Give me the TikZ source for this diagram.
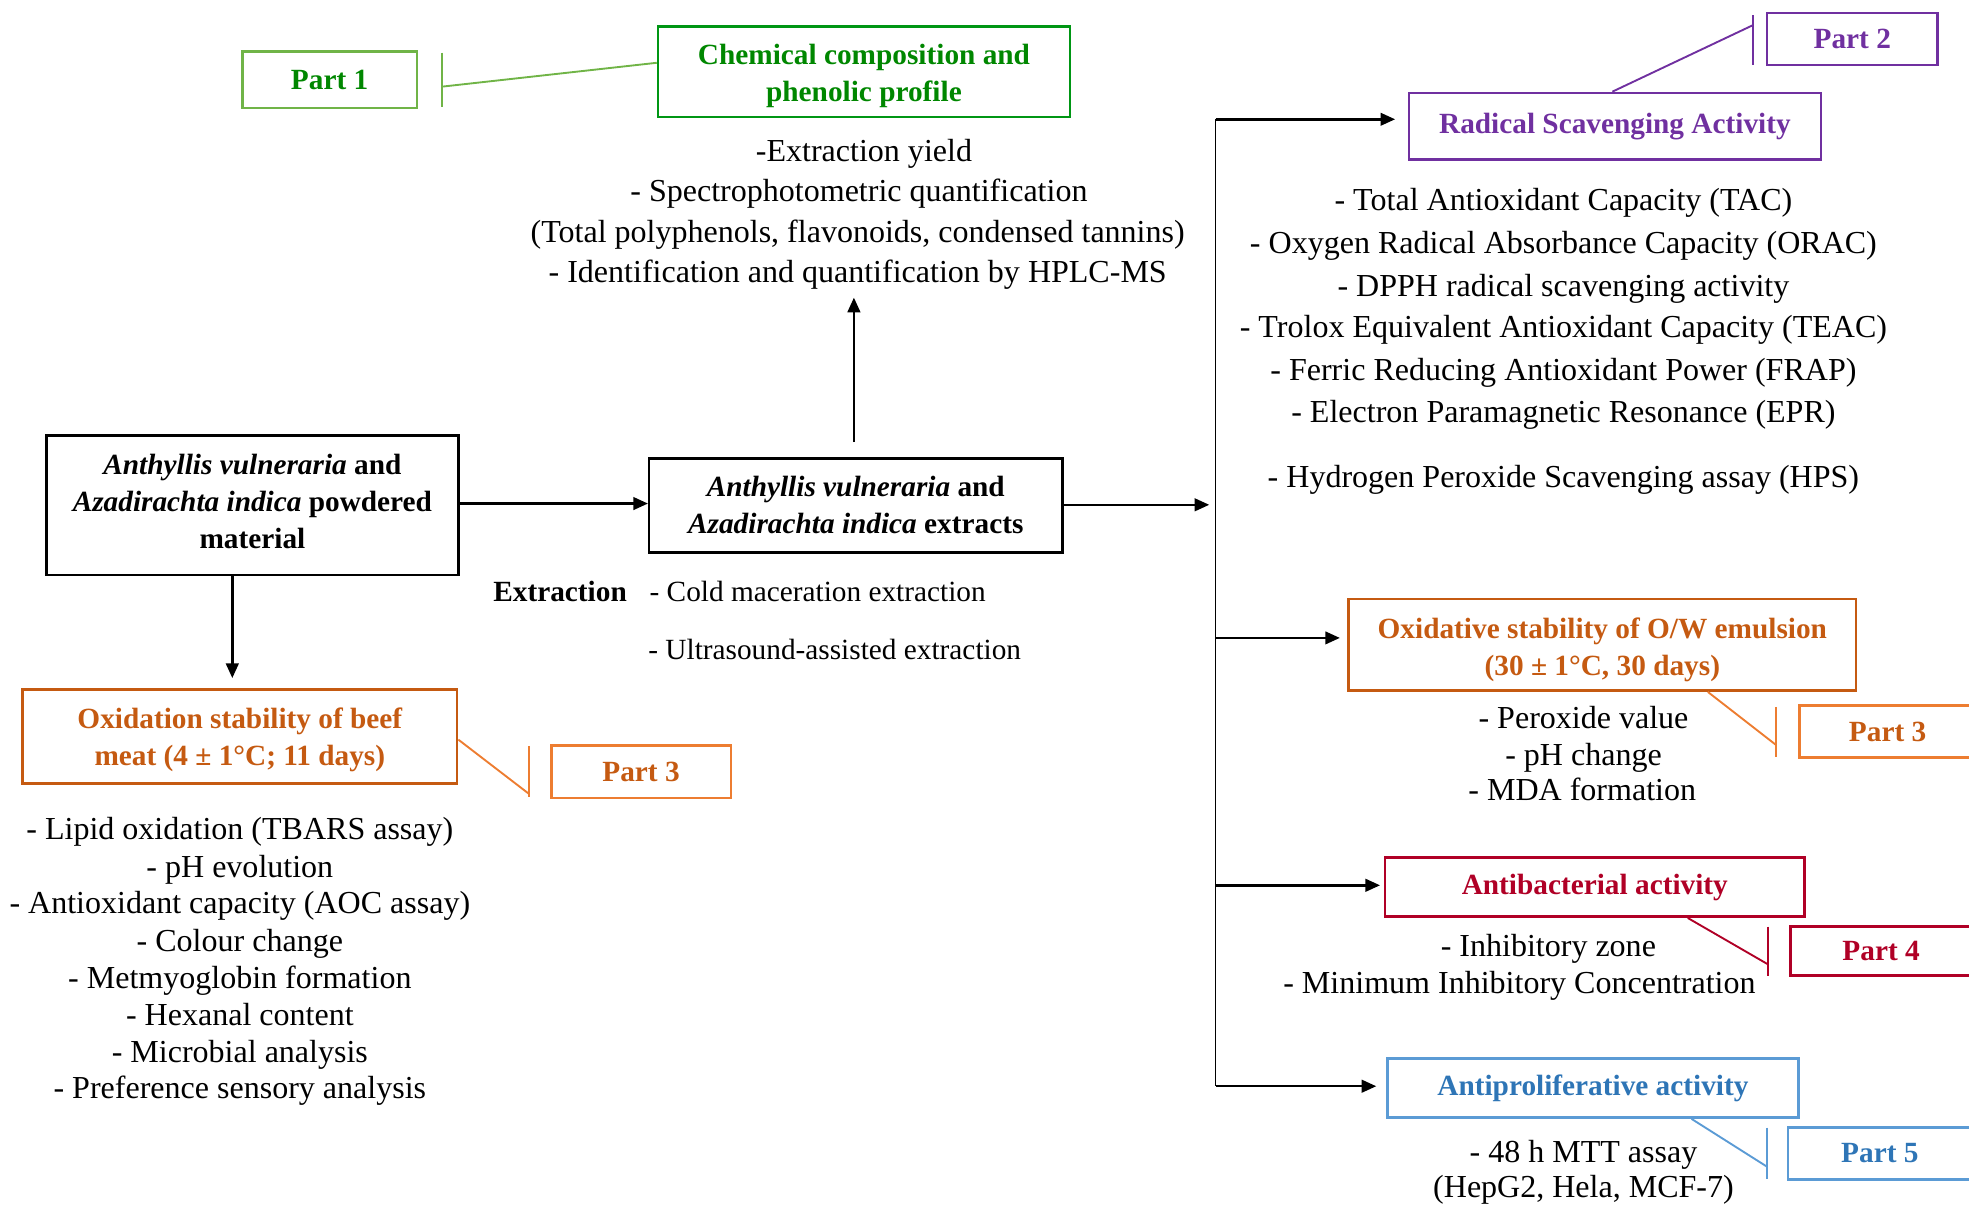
\documentclass[tikz,border=0pt]{standalone}
\usepackage{fontspec}
\setmainfont{Liberation Serif}
\usetikzlibrary{arrows.meta,calc}

\definecolor{grnT}{RGB}{0,135,0}
\definecolor{grnB}{RGB}{0,150,20}
\definecolor{grnL}{RGB}{112,180,71}
\definecolor{purp}{RGB}{112,48,160}
\definecolor{orgT}{RGB}{197,90,17}
\definecolor{orgL}{RGB}{237,125,49}
\definecolor{crim}{RGB}{176,0,38}
\definecolor{bluT}{RGB}{46,117,182}
\definecolor{bluL}{RGB}{91,155,213}

\newcommand\listfont{\fontsize{15.3}{18}\selectfont}
\newcommand\smallfont{\fontsize{14}{17}\selectfont}
\newcommand\headfont{\fontsize{14}{17.7}\selectfont\bfseries}

\tikzset{
  box/.style={draw, line width=1.2pt, inner sep=0pt},
  boxtext/.style={align=center, inner sep=0pt, font=\headfont},
  partbox/.style={draw, line width=1.2pt, inner sep=0pt,
    minimum height=25pt, font=\headfont},
  item/.style={anchor=mid, inner sep=0pt, font=\listfont, yshift=-2.4pt},
  flow/.style={line width=1.2pt, -{Triangle[length=7pt,width=6pt]}},
  bus/.style={line width=0.8pt},
  callout/.style={line width=0.9pt},
}

\begin{document}
\begin{tikzpicture}[x=0.6pt,y=-0.6pt]
\useasboundingbox (0,0) rectangle (1568,960);

% ---------- central chain ----------
\node[box, minimum width=196.8pt, minimum height=66.6pt] (powder) at (201,402.5) {};
\node[boxtext] (powderT) at (201,399.5)
  {\textit{Anthyllis vulneraria} and\\ \textit{Azadirachta indica} powdered\\ material};
\node[box, minimum width=197.4pt, minimum height=45pt] (extr) at (681.5,402.5) {};
\node[boxtext] (extrT) at (681.5,402.5)
  {\textit{Anthyllis vulneraria} and\\ \textit{Azadirachta indica} extracts};

\coordinate (busIn) at (963,402);
\coordinate (upFrom) at (680,352);
\coordinate (upTo) at (680,237);
\coordinate (downTo) at (185,540);

\draw[flow] (powder.east |- 0,401) -- (extr.west |- 0,401);
\draw[flow] (extr.east |- busIn) -- (busIn);
\draw[flow] (upFrom) -- (upTo);
\draw[flow] (powder.south -| downTo) -- (downTo);

\node[item, font=\headfont] (extlab) at (446,471) {Extraction};
\node[item, anchor=mid west, font=\smallfont] (ext1) at (517,471) {- Cold maceration extraction};
\node[item, anchor=mid west, font=\smallfont] (ext2) at (516,517) {- Ultrasound-assisted extraction};

% ---------- Part 1 : chemical composition ----------
\node[box, draw=grnB, minimum width=196.8pt, minimum height=43.2pt] (chem) at (688,57) {};
\node[boxtext, text=grnT] (chemT) at (688,60.5) {Chemical composition and\\ phenolic profile};
\node[partbox, draw=grnL, text=grnT, minimum width=83.4pt, minimum height=27pt] (p1) at (262.5,63.5) {Part 1};
\coordinate (t1a) at (352,42);
\coordinate (t1b) at (352,85);
\coordinate (t1m) at (352,69);
\draw[callout, grnL] (t1a) -- (t1b);
\draw[callout, grnL] (chem.west |- 0,50) -- (t1m);

\node[item] (c1) at (688,121) {-Extraction yield};
\node[item] (c2) at (684,153) {- Spectrophotometric quantification};
\node[item] (c3) at (683,185) {(Total polyphenols, flavonoids, condensed tannins)};
\node[item] (c4) at (683,217) {- Identification and quantification by HPLC-MS};

% ---------- bus to the right-hand analyses ----------
\coordinate (busTop) at (968,95);
\coordinate (busBot) at (968,865);
\draw[bus] (busTop) -- (busBot);

% ---------- Part 2 : radical scavenging ----------
\node[box, draw=purp, text=purp, font=\headfont, minimum width=196.8pt, minimum height=31.8pt] (rad) at (1286,100.5)
  {Radical Scavenging Activity};
\draw[flow] (busTop) -- ($(rad.west |- busTop)+(-10,0)$);
\node[partbox, draw=purp, text=purp, minimum width=81.6pt] (p2) at (1475,31) {Part 2};
\coordinate (t2a) at (1396,12);
\coordinate (t2b) at (1396,52);
\coordinate (t2m) at (1396,20);
\draw[callout, purp] (t2a) -- (t2b);
\draw[callout, purp] (rad.north -| 1284,0) -- (t2m);

\node[item] (r1) at (1245,160) {- Total Antioxidant Capacity (TAC)};
\node[item] (r2) at (1245,194) {- Oxygen Radical Absorbance Capacity (ORAC)};
\node[item] (r3) at (1245,228) {- DPPH radical scavenging activity};
\node[item] (r4) at (1245,261) {- Trolox Equivalent Antioxidant Capacity (TEAC)};
\node[item] (r5) at (1245,295) {- Ferric Reducing Antioxidant Power (FRAP)};
\node[item] (r6) at (1245,329) {- Electron Paramagnetic Resonance (EPR)};
\node[item] (r7) at (1245,380) {- Hydrogen Peroxide Scavenging assay (HPS)};

% ---------- Part 3 : O/W emulsion ----------
\node[box, draw=orgT, minimum width=242.4pt, minimum height=43.8pt] (oxid) at (1276,513.5) {};
\node[boxtext, text=orgT] (oxidT) at (1276,517.5) {Oxidative stability of O/W emulsion\\ (30 ± 1°C, 30 days)};
\coordinate (b2) at (968,508);
\draw[flow] (b2) -- ($(oxid.west |- b2)+(-6,0)$);
\node[partbox, draw=orgL, text=orgT, minimum width=88.2pt] (p3b) at (1506.5,582.5) {\hspace*{-4pt}Part 3};
\coordinate (t3a) at (1414,563);
\coordinate (t3b) at (1414,603);
\coordinate (t3m) at (1414,593);
\draw[callout, orgL] (t3a) -- (t3b);
\draw[callout, orgL] (oxid.south -| 1360,0) -- (t3m);

\node[item] (o1) at (1261,572) {- Peroxide value};
\node[item] (o2) at (1261,602) {- pH change};
\node[item] (o3) at (1260,630) {- MDA formation};

% ---------- Part 4 : antibacterial ----------
\node[box, draw=crim, text=crim, font=\headfont, minimum width=200.4pt, minimum height=28.2pt] (abac) at (1270,706.5)
  {\raisebox{-1.2pt}{Antibacterial activity}};
\coordinate (b3) at (968,705);
\draw[flow] (b3) -- ($(abac.west |- b3)+(-3,0)$);
\node[partbox, draw=crim, text=crim, minimum width=92.4pt, minimum height=23.4pt] (p4) at (1503,757.5) {\hspace*{-6pt}Part 4};
\coordinate (t4a) at (1408,738);
\coordinate (t4b) at (1408,777);
\coordinate (t4m) at (1408,768);
\draw[callout, crim] (t4a) -- (t4b);
\draw[callout, crim] (abac.south -| 1344,0) -- (t4m);

\node[item] (a1) at (1233,754) {- Inhibitory zone};
\node[item] (a2) at (1210,783) {- Minimum Inhibitory Concentration};

% ---------- Part 5 : antiproliferative ----------
\node[box, draw=bluL, text=bluT, font=\headfont, minimum width=196.2pt, minimum height=28.2pt] (aprol) at (1268.5,866.5)
  {\raisebox{-1.2pt}{Antiproliferative activity}};
\draw[flow] (busBot) -- ($(aprol.west |- busBot)+(-8,0)$);
\node[partbox, draw=bluL, text=bluT, minimum width=87.6pt] (p5) at (1497,918.5) {Part 5};
\coordinate (t5a) at (1407,898);
\coordinate (t5b) at (1407,939);
\coordinate (t5m) at (1407,929);
\draw[callout, bluL] (t5a) -- (t5b);
\draw[callout, bluL] (aprol.south -| 1347,0) -- (t5m);

\node[item] (m1) at (1261,918) {- 48 h MTT assay};
\node[item] (m2) at (1261,946) {(HepG2, Hela, MCF-7)};

% ---------- Part 3 : beef meat ----------
\node[box, draw=orgT, minimum width=207.6pt, minimum height=45pt] (beef) at (191,586.5) {};
\node[boxtext, text=orgT] (beefT) at (191,589) {Oxidation stability of beef\\ meat (4 ± 1°C; 11 days)};
\node[partbox, draw=orgL, text=orgT, minimum width=85.8pt] (p3a) at (510.5,614.5) {Part 3};
\coordinate (t3c) at (421,594);
\coordinate (t3d) at (421,635);
\coordinate (t3n) at (421,632);
\draw[callout, orgL] (t3c) -- (t3d);
\draw[callout, orgL] (beef.east |- 0,589) -- (t3n);

\node[item] (f1) at (191,661) {- Lipid oxidation (TBARS assay)};
\node[item] (f2) at (191,691) {- pH evolution};
\node[item] (f3) at (191,720) {- Antioxidant capacity (AOC assay)};
\node[item] (f4) at (191,750) {- Colour change};
\node[item] (f5) at (191,779) {- Metmyoglobin formation};
\node[item] (f6) at (191,809) {- Hexanal content};
\node[item] (f7) at (191,838) {- Microbial analysis};
\node[item] (f8) at (191,867) {- Preference sensory analysis};
\end{tikzpicture}
\end{document}
